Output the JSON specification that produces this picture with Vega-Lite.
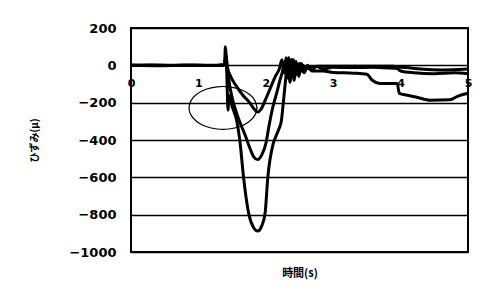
{
  "$schema": "https://vega.github.io/schema/vega-lite/v6.json",
  "width": 337,
  "height": 224,
  "autosize": {"type": "none"},
  "padding": {"left": 131, "top": 28, "right": 26, "bottom": 41},
  "background": "white",
  "config": {
    "view": {"stroke": "black", "strokeWidth": 2},
    "axis": {"labelFont": "DejaVu Sans", "labelFontWeight": "bold", "labelColor": "black", "titleColor": "black", "labelOverlap": false}
  },
  "datasets": {
    "curves": [
      {"s": "A", "t": 0, "v": 0}, {"s": "A", "t": 0.3, "v": 2}, {"s": "A", "t": 0.6, "v": -1}, {"s": "A", "t": 0.9, "v": 2}, {"s": "A", "t": 1.2, "v": 0}, {"s": "A", "t": 1.35, "v": 3}, {"s": "A", "t": 1.39, "v": 10}, {"s": "A", "t": 1.40, "v": 100}, {"s": "A", "t": 1.42, "v": -30}, {"s": "A", "t": 1.44, "v": -240}, {"s": "A", "t": 1.45, "v": -160}, {"s": "A", "t": 1.50, "v": -220}, {"s": "A", "t": 1.57, "v": -300}, {"s": "A", "t": 1.62, "v": -420}, {"s": "A", "t": 1.67, "v": -600}, {"s": "A", "t": 1.75, "v": -800}, {"s": "A", "t": 1.82, "v": -870}, {"s": "A", "t": 1.88, "v": -888}, {"s": "A", "t": 1.94, "v": -860}, {"s": "A", "t": 1.99, "v": -790}, {"s": "A", "t": 2.03, "v": -600}, {"s": "A", "t": 2.11, "v": -420}, {"s": "A", "t": 2.15, "v": -380}, {"s": "A", "t": 2.19, "v": -345}, {"s": "A", "t": 2.23, "v": -300}, {"s": "A", "t": 2.26, "v": -200}, {"s": "A", "t": 2.30, "v": -60}, {"s": "A", "t": 2.33, "v": 0}, {"s": "A", "t": 2.36, "v": -90}, {"s": "A", "t": 2.39, "v": 30}, {"s": "A", "t": 2.42, "v": -80}, {"s": "A", "t": 2.45, "v": 20}, {"s": "A", "t": 2.49, "v": -60}, {"s": "A", "t": 2.53, "v": 10}, {"s": "A", "t": 2.57, "v": -40}, {"s": "A", "t": 2.62, "v": 0}, {"s": "A", "t": 2.68, "v": -30}, {"s": "A", "t": 2.75, "v": -5}, {"s": "A", "t": 2.85, "v": -20}, {"s": "A", "t": 3.0, "v": -10}, {"s": "A", "t": 3.3, "v": -12}, {"s": "A", "t": 3.6, "v": -10}, {"s": "A", "t": 3.9, "v": -15}, {"s": "A", "t": 4.0, "v": -10}, {"s": "A", "t": 4.3, "v": -20}, {"s": "A", "t": 4.6, "v": -25}, {"s": "A", "t": 5.0, "v": -20},
      {"s": "B", "t": 0, "v": 0}, {"s": "B", "t": 0.4, "v": -2}, {"s": "B", "t": 0.8, "v": 1}, {"s": "B", "t": 1.2, "v": -1}, {"s": "B", "t": 1.38, "v": 2}, {"s": "B", "t": 1.41, "v": 30}, {"s": "B", "t": 1.43, "v": -20}, {"s": "B", "t": 1.47, "v": -120}, {"s": "B", "t": 1.52, "v": -200}, {"s": "B", "t": 1.60, "v": -290}, {"s": "B", "t": 1.70, "v": -380}, {"s": "B", "t": 1.76, "v": -440}, {"s": "B", "t": 1.82, "v": -490}, {"s": "B", "t": 1.88, "v": -505}, {"s": "B", "t": 1.94, "v": -480}, {"s": "B", "t": 2.00, "v": -420}, {"s": "B", "t": 2.05, "v": -320}, {"s": "B", "t": 2.10, "v": -230}, {"s": "B", "t": 2.16, "v": -150}, {"s": "B", "t": 2.21, "v": -80}, {"s": "B", "t": 2.25, "v": -30}, {"s": "B", "t": 2.28, "v": 20}, {"s": "B", "t": 2.31, "v": -70}, {"s": "B", "t": 2.34, "v": 40}, {"s": "B", "t": 2.37, "v": -60}, {"s": "B", "t": 2.41, "v": 30}, {"s": "B", "t": 2.45, "v": -50}, {"s": "B", "t": 2.50, "v": 0}, {"s": "B", "t": 2.55, "v": -35}, {"s": "B", "t": 2.62, "v": -15}, {"s": "B", "t": 2.7, "v": -30}, {"s": "B", "t": 2.85, "v": -30}, {"s": "B", "t": 3.0, "v": -38}, {"s": "B", "t": 3.3, "v": -42}, {"s": "B", "t": 3.5, "v": -48}, {"s": "B", "t": 3.58, "v": -80}, {"s": "B", "t": 3.69, "v": -97}, {"s": "B", "t": 3.95, "v": -97}, {"s": "B", "t": 3.98, "v": -150}, {"s": "B", "t": 4.1, "v": -160}, {"s": "B", "t": 4.24, "v": -171}, {"s": "B", "t": 4.44, "v": -187}, {"s": "B", "t": 4.73, "v": -185}, {"s": "B", "t": 4.85, "v": -165}, {"s": "B", "t": 5.0, "v": -150},
      {"s": "C", "t": 0, "v": 0}, {"s": "C", "t": 0.5, "v": 1}, {"s": "C", "t": 1.0, "v": -1}, {"s": "C", "t": 1.38, "v": 1}, {"s": "C", "t": 1.41, "v": 60}, {"s": "C", "t": 1.43, "v": -10}, {"s": "C", "t": 1.48, "v": -60}, {"s": "C", "t": 1.56, "v": -110}, {"s": "C", "t": 1.66, "v": -160}, {"s": "C", "t": 1.76, "v": -200}, {"s": "C", "t": 1.83, "v": -235}, {"s": "C", "t": 1.88, "v": -250}, {"s": "C", "t": 1.93, "v": -235}, {"s": "C", "t": 2.0, "v": -180}, {"s": "C", "t": 2.07, "v": -120}, {"s": "C", "t": 2.14, "v": -60}, {"s": "C", "t": 2.2, "v": -20}, {"s": "C", "t": 2.24, "v": 30}, {"s": "C", "t": 2.27, "v": -40}, {"s": "C", "t": 2.30, "v": 40}, {"s": "C", "t": 2.34, "v": -30}, {"s": "C", "t": 2.38, "v": 30}, {"s": "C", "t": 2.43, "v": -20}, {"s": "C", "t": 2.5, "v": 10}, {"s": "C", "t": 2.6, "v": -10}, {"s": "C", "t": 2.8, "v": -5}, {"s": "C", "t": 3.0, "v": -5}, {"s": "C", "t": 3.5, "v": -5}, {"s": "C", "t": 3.9, "v": -5}, {"s": "C", "t": 4.0, "v": -30}, {"s": "C", "t": 4.2, "v": -40}, {"s": "C", "t": 4.5, "v": -45}, {"s": "C", "t": 4.8, "v": -40}, {"s": "C", "t": 5.0, "v": -45}
    ],
    "ellipse": [
      {"i": 0, "t": 1.869, "v": -228}, {"i": 1, "t": 1.839, "v": -189}, {"i": 2, "t": 1.751, "v": -154}, {"i": 3, "t": 1.617, "v": -128}, {"i": 4, "t": 1.453, "v": -115}, {"i": 5, "t": 1.277, "v": -115}, {"i": 6, "t": 1.113, "v": -128}, {"i": 7, "t": 0.979, "v": -154}, {"i": 8, "t": 0.891, "v": -189}, {"i": 9, "t": 0.861, "v": -228}, {"i": 10, "t": 0.891, "v": -267}, {"i": 11, "t": 0.979, "v": -302}, {"i": 12, "t": 1.113, "v": -328}, {"i": 13, "t": 1.277, "v": -341}, {"i": 14, "t": 1.453, "v": -341}, {"i": 15, "t": 1.617, "v": -328}, {"i": 16, "t": 1.751, "v": -302}, {"i": 17, "t": 1.839, "v": -267}, {"i": 18, "t": 1.869, "v": -228}
    ]
  },
  "encoding": {
    "x": {
      "field": "t", "type": "quantitative",
      "scale": {"domain": [0, 5], "nice": false},
      "axis": {
        "values": [0, 1, 2, 3, 4, 5], "format": "d", "offset": -187, "domain": false, "ticks": false, "grid": false,
        "labelFontSize": 11, "labelPadding": 12, "labelFlush": false,
        "title": "時間(s)", "titleFont": "Noto Sans CJK JP", "titleFontSize": 11, "titleFontWeight": "bold",
        "titleY": 208, "titleBaseline": "middle"
      }
    },
    "y": {
      "field": "v", "type": "quantitative",
      "scale": {"domain": [-1000, 200], "nice": false},
      "axis": {
        "values": [-1000, -800, -600, -400, -200, 0, 200], "format": "d", "domain": false, "ticks": false,
        "grid": true, "gridColor": "black", "gridOpacity": 1, "gridWidth": 1.5,
        "labelFontSize": 13, "labelPadding": 15, "labelOverlap": false,
        "title": "ひずみ(μ)", "titleFont": "Noto Sans CJK JP", "titleFontSize": 10, "titleFontWeight": "bold",
        "titleX": -92
      }
    }
  },
  "layer": [
    {
      "data": {"name": "curves"},
      "mark": {"type": "line", "color": "black", "strokeWidth": 3, "interpolate": "monotone"},
      "encoding": {"detail": {"field": "s"}}
    },
    {
      "data": {"name": "ellipse"},
      "mark": {"type": "line", "color": "black", "strokeWidth": 1.2, "interpolate": "cardinal-closed"},
      "encoding": {"order": {"field": "i"}}
    }
  ]
}
